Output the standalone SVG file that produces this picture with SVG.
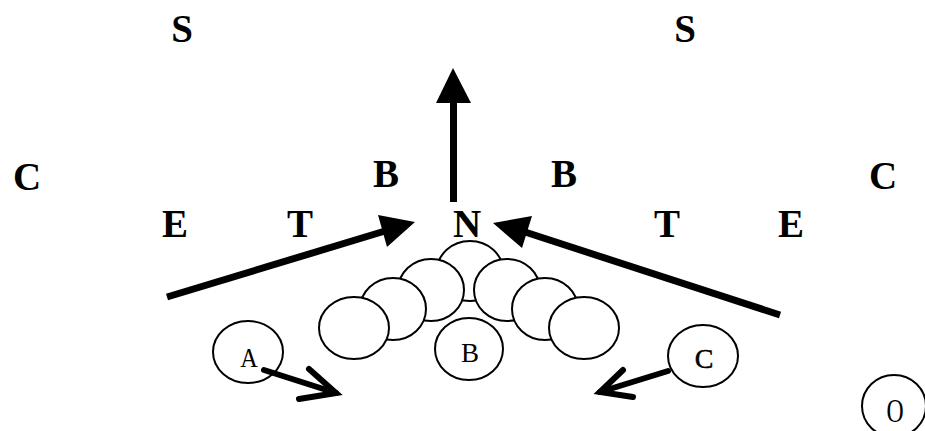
<svg xmlns="http://www.w3.org/2000/svg" width="925" height="431" viewBox="0 0 925 431">
<style>
.lbl{font-family:"Liberation Serif","Times New Roman",serif;font-weight:bold;font-size:39px;text-anchor:middle;fill:#000}
.pl{font-family:"Liberation Serif","Times New Roman",serif;font-size:27px;text-anchor:middle;fill:#000}
.el{fill:#fff;stroke:#000;stroke-width:2}
.thick{stroke:#000;stroke-width:7;fill:none}
.open{stroke:#000;stroke-width:6;fill:none;stroke-linecap:round;stroke-linejoin:miter}
</style>
<rect width="925" height="431" fill="#fff"/>
<g id="defense">
<text class="lbl" x="182" y="42">S</text>
<text class="lbl" x="685" y="42">S</text>
<text class="lbl" x="27" y="190">C</text>
<text class="lbl" x="883" y="189">C</text>
<text class="lbl" x="386" y="187">B</text>
<text class="lbl" x="564" y="187">B</text>
<text class="lbl" x="175" y="237">E</text>
<text class="lbl" x="300" y="237">T</text>
<text class="lbl" x="467" y="237">N</text>
<text class="lbl" x="667" y="237">T</text>
<text class="lbl" x="791" y="237">E</text>
</g>
<g id="offensive-line">
<ellipse class="el" cx="470" cy="271" rx="33" ry="30"/>
<ellipse class="el" cx="431" cy="290" rx="33" ry="31"/>
<ellipse class="el" cx="393" cy="309" rx="33" ry="31"/>
<ellipse class="el" cx="354" cy="328" rx="35" ry="31"/>
<ellipse class="el" cx="507" cy="290" rx="33" ry="31"/>
<ellipse class="el" cx="545" cy="309" rx="33" ry="31"/>
<ellipse class="el" cx="584" cy="328" rx="35" ry="31"/>
</g>
<g id="back-B">
<ellipse class="el" cx="469" cy="349" rx="34" ry="31"/>
<text class="pl" x="470" y="362">B</text>
</g>
<g id="back-A">
<ellipse class="el" cx="248" cy="352" rx="35" ry="31"/>
<text class="pl" x="0" y="0" transform="translate(249 367) scale(0.9 1)">A</text>
</g>
<g id="back-C">
<ellipse class="el" cx="703" cy="356" rx="35" ry="31"/>
<text class="pl" x="704" y="368" style="font-size:28px;stroke:#000;stroke-width:0.5">C</text>
</g>
<g id="back-O">
<ellipse class="el" cx="894" cy="406" rx="32" ry="31"/>
<text class="pl" x="0" y="0" transform="translate(895 422) scale(0.7 1)" style="font-size:34px">O</text>
</g>
<g id="connectors">
<line class="thick" x1="453.5" y1="202" x2="453.5" y2="100"/>
<polygon points="453,68 436,103 471,103" fill="#000"/>
<line class="thick" x1="167" y1="297" x2="385" y2="231"/>
<polygon points="415,222 378,215 387,247" fill="#000"/>
<line class="thick" x1="780" y1="315" x2="525" y2="232"/>
<polygon points="493,223 532,216 522,248" fill="#000"/>
<line class="open" x1="264" y1="370" x2="336" y2="393"/>
<polyline class="open" points="309,369 336,393 299,399"/>
<line class="open" x1="668" y1="371" x2="600" y2="392"/>
<polyline class="open" points="623,370 600,392 633,397"/>
</g>
</svg>
